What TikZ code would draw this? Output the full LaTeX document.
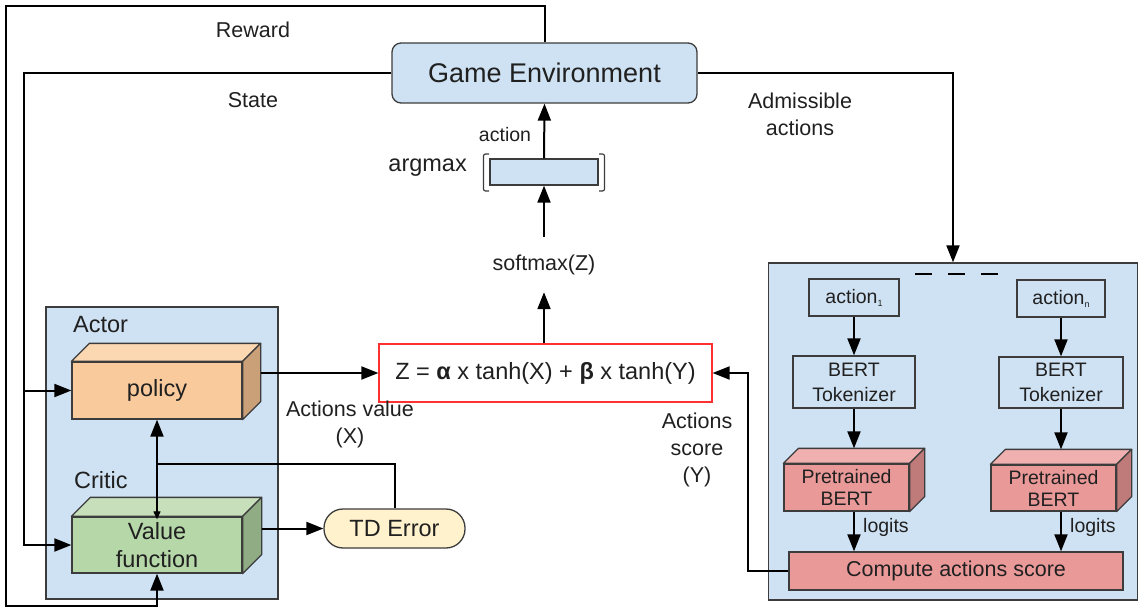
\documentclass[tikz,border=0pt]{standalone}
\usepackage{fontspec}
\setmainfont{Liberation Sans}
\usetikzlibrary{arrows.meta,calc}
\definecolor{cLB}{HTML}{CFE2F3}
\definecolor{cBD}{HTML}{3C3C3C}
\definecolor{cTX}{HTML}{202020}
\definecolor{cPolF}{HTML}{F9CB9C}
\definecolor{cPolT}{HTML}{FCD8B2}
\definecolor{cPolS}{HTML}{C9A078}
\definecolor{cVfF}{HTML}{B6D7A8}
\definecolor{cVfT}{HTML}{C7E0BB}
\definecolor{cVfS}{HTML}{8FAC84}
\definecolor{cBeF}{HTML}{EA9999}
\definecolor{cBeT}{HTML}{F0B0B0}
\definecolor{cBeS}{HTML}{BF7A7A}
\definecolor{cTD}{HTML}{FFF2CC}
\definecolor{cZR}{HTML}{FF3030}
\newcommand\fs[2]{\fontsize{#1}{#2}\selectfont}
\newcommand\mysub[1]{{\fontsize{9}{9}\selectfont\raisebox{-3pt}{#1}}}
\newcommand\mycube[4]{%
  \filldraw[fill=#3, draw=cBD, line width=1.3pt, line join=round] (#1.north west) -- ++(#2,-#2) -- ($(#1.north east)+(#2,-#2)$) -- (#1.north east) -- cycle;
  \filldraw[fill=#4, draw=cBD, line width=1.3pt, line join=round] (#1.north east) -- ($(#1.north east)+(#2,-#2)$) -- ($(#1.south east)+(#2,-#2)$) -- (#1.south east) -- cycle;}
\begin{document}
\begin{tikzpicture}[x=1pt,y=-1pt,
  box/.style={draw=cBD, line width=1.3pt, inner sep=0pt, align=center, text=cTX},
  conn/.style={line width=2pt, draw=black},
  arr/.style={conn, -{Triangle[length=17pt,width=13pt]}},
  lbl/.style={text=cTX, align=center, inner sep=0pt, font=\fs{21.5}{27}},
  small/.style={font=\fs{19.5}{24}},
]
\useasboundingbox (0,0) rectangle (1139,609);
% containers
\node[box, fill=cLB, minimum width=232pt, minimum height=292pt] (ac) at (162,453) {};
\node[box, fill=cLB, minimum width=369pt, minimum height=337pt] (rc) at (953,431.5) {};
% top
\node[box, fill=cLB, rounded corners=9pt, minimum width=305pt, minimum height=60pt, font=\fs{27}{32}] (ge) at (544.5,73) {Game Environment};
\node[box, fill=cLB, minimum width=108pt, minimum height=26pt] (am) at (544,172) {};
\draw[line width=1.2pt, draw=cBD, rounded corners=2pt] (489,154) -- (483.5,154) -- (483.5,191) -- (489,191);
\draw[line width=1.2pt, draw=cBD, rounded corners=2pt] (599,154) -- (604.5,154) -- (604.5,191) -- (599,191);
\node[lbl, font=\fs{23.5}{28}, anchor=east] (amx) at (467,168) {argmax};
\node[lbl, minimum height=55pt] (sm) at (544,264.5) {softmax(Z)};
\node[box, draw=cZR, fill=white, line width=1.2pt, minimum width=333pt, minimum height=58pt, font=\fs{23.5}{28}] (z) at (545.5,373) {Z = \textbf{α} x tanh(X) + \textbf{β} x tanh(Y)};
% actor critic
\node[lbl, font=\fs{23.5}{28}, anchor=west] (actor) at (73,325) {Actor};
\node[lbl, font=\fs{23.5}{28}, anchor=west] (critic) at (74,480) {Critic};
\node[box, fill=cPolF, minimum width=170pt, minimum height=57pt, font=\fs{23.5}{28}] (pol) at (157,390.5) {policy};
\mycube{pol}{18}{cPolT}{cPolS}
\node[box, fill=cVfF, minimum width=170pt, minimum height=56pt, font=\fs{23.5}{28}] (vf) at (157,545) {Value\\function};
\mycube{vf}{19}{cVfT}{cVfS}
\node[box, fill=cTD, rounded corners=19pt, minimum width=141pt, minimum height=39pt, font=\fs{23.5}{28}] (td) at (394.5,528.5) {TD Error};
% right container
\node[box, fill=cLB, minimum width=90pt, minimum height=37pt, small] (a1) at (854,297.5) {action\mysub{1}};
\node[box, fill=cLB, minimum width=88pt, minimum height=37pt, small] (an) at (1061,298.5) {action\mysub{n}};
\node[box, fill=cLB, minimum width=122pt, minimum height=52pt, font=\fs{19.5}{25}] (tok1) at (854,382) {BERT\\Tokenizer};
\node[box, fill=cLB, minimum width=124pt, minimum height=51pt, font=\fs{19.5}{25}] (tokn) at (1061,382.5) {BERT\\Tokenizer};
\node[box, fill=cBeF, minimum width=125pt, minimum height=47pt, font=\fs{19.5}{22}] (b1) at (846.5,487.5) {Pretrained\\BERT};
\mycube{b1}{15}{cBeT}{cBeS}
\node[box, fill=cBeF, minimum width=125pt, minimum height=46pt, font=\fs{19.5}{22}] (bn) at (1053.5,488) {Pretrained\\BERT};
\mycube{bn}{15}{cBeT}{cBeS}
\node[box, fill=cBeF, minimum width=334pt, minimum height=38pt, font=\fs{21.5}{26}] (comp) at (956,571) {Compute actions score};
\draw[line width=2.5pt, dash pattern=on 17pt off 16pt] (915,274) -- (1000,274);
% coordinates
\coordinate (TL) at (6,6);
\coordinate (BL) at (6,606);
\coordinate (SX) at (24,73);
\coordinate (PR) at ($(pol.east)+(18,0)$);
\coordinate (VR) at ($(vf.east)+(19,0)$);
\coordinate (J) at (157,464);
\coordinate (YX) at (748,373);
\coordinate (B1T) at ($(b1.north)+(0,-15)$);
\coordinate (BNT) at ($(bn.north)+(0,-15)$);
% connectors
\draw[arr] (ge.north) |- (TL) -- (BL) -| (vf.south);
\draw[arr] (ge.west) -- (SX) |- (vf.west);
\draw[arr] (SX |- pol.west) -- (pol.west);
\draw[arr] (z.west -| PR) -- (z.west);
\draw[arr] (td.west -| VR) -- (td.west);
\draw[conn] (td.north) |- (J);
\draw[arr] (J) -- (pol.south);
\draw[line width=1.2pt, -{Triangle[length=8pt,width=7pt]}] (J) -- ([yshift=-3pt]vf.north);
\draw[arr] (z.north -| sm.south) -- (sm.south);
\draw[arr] (sm.north) -- (am.south);
\draw[arr] (am.north) -- (ge.south);
\node[lbl, small] (actlbl) at (505,135) {action};
\draw[arr] (ge.east) -| (rc.north);
\draw[arr] (comp.west) -| (YX) -- (z.east);
\draw[arr] (a1.south) -- (tok1.north);
\draw[arr] (an.south) -- (tokn.north);
\draw[arr] (tok1.south) -- (tok1.south |- B1T);
\draw[arr] (tokn.south) -- (tokn.south |- BNT);
\draw[arr] (tok1.south |- b1.south) -- (tok1.south |- comp.north);
\draw[arr] (tokn.south |- bn.south) -- (tokn.south |- comp.north);
% labels
\node[lbl] (rew) at (253,30) {Reward};
\node[lbl] (st) at (253,100) {State};
\node[lbl] (adm) at (800,114) {Admissible\\actions};
\node[lbl] (avx) at (350,424) {Actions value\\(X)};
\node[lbl] (asy) at (697,450) {Actions\\score\\(Y)};
\node[lbl, small, anchor=west] (lg1) at (863,527) {logits};
\node[lbl, small, anchor=west] (lgn) at (1070,527) {logits};
\end{tikzpicture}
\end{document}
